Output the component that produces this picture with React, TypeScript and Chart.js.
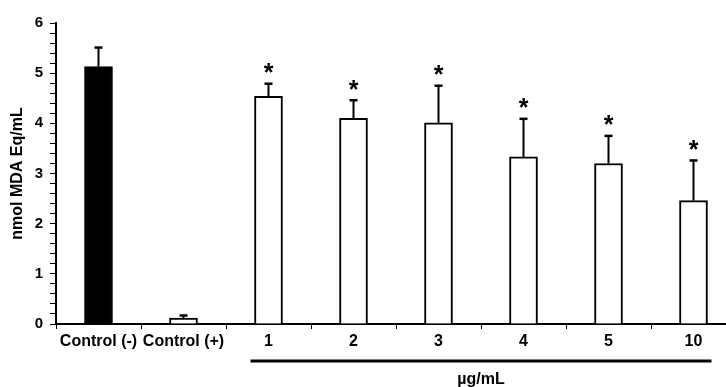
import React, { useEffect, useRef } from "react";
import { Chart, registerables } from "chart.js";

Chart.register(...registerables);

const categories = ["Control (-)", "Control (+)", "1", "2", "3", "4", "5", "10"];
const meanValues = [5.13, 0.12, 4.54, 4.1, 4.01, 3.33, 3.2, 2.46];
const errorValues = [0.38, 0.05, 0.25, 0.36, 0.74, 0.76, 0.55, 0.8];
const significant = [false, false, true, true, true, true, true, true];
const barColors = ["#000000", "#ffffff", "#ffffff", "#ffffff", "#ffffff", "#ffffff", "#ffffff", "#ffffff"];
const yTitle = "nmol MDA Eq/mL";
const groupLabel = "µg/mL";
const groupStart = 2;
const groupEnd = 7;

const FONT = "'Liberation Sans', Arial, sans-serif";

const errorBarPlugin = {
  id: "errorBars",
  afterDatasetsDraw(chart: any) {
    const ctx = chart.ctx;
    const meta = chart.getDatasetMeta(0);
    const ys = chart.scales.y;
    ctx.save();
    ctx.strokeStyle = "#000";
    ctx.fillStyle = "#000";
    meta.data.forEach((bar: any, i: number) => {
      const x = bar.x;
      const yBar = ys.getPixelForValue(meanValues[i]);
      const yTop = ys.getPixelForValue(meanValues[i] + errorValues[i]);
      ctx.lineWidth = 2;
      ctx.beginPath();
      ctx.moveTo(x, yBar);
      ctx.lineTo(x, yTop);
      ctx.stroke();
      ctx.lineWidth = 2.5;
      ctx.beginPath();
      ctx.moveTo(x - 4, yTop);
      ctx.lineTo(x + 4, yTop);
      ctx.stroke();
      if (significant[i]) {
        ctx.font = `bold 25px ${FONT}`;
        ctx.textAlign = "center";
        ctx.textBaseline = "alphabetic";
        ctx.fillText("*", x, yTop - 2.5);
      }
    });
    ctx.restore();
  },
  afterDraw(chart: any) {
    const ctx = chart.ctx;
    const meta = chart.getDatasetMeta(0);
    const a = meta.data[groupStart];
    const b = meta.data[groupEnd];
    const x1 = a.x - a.width / 2 - 4;
    const x2 = b.x + b.width / 2 + 4;
    ctx.save();
    ctx.strokeStyle = "#000";
    ctx.lineWidth = 3;
    ctx.beginPath();
    ctx.moveTo(x1, 361);
    ctx.lineTo(x2, 361);
    ctx.stroke();
    ctx.fillStyle = "#000";
    ctx.font = `bold 16px ${FONT}`;
    ctx.textAlign = "center";
    ctx.textBaseline = "middle";
    ctx.fillText(groupLabel, (x1 + x2) / 2, 380);
    ctx.restore();
  },
};

export default function App() {
  const ref = useRef<HTMLCanvasElement | null>(null);
  useEffect(() => {
    document.body.style.margin = "0";
    document.body.style.overflow = "hidden";
    const canvas = ref.current!;
    const chart = new Chart(canvas, {
      type: "bar",
      data: {
        labels: categories,
        datasets: [
          {
            data: meanValues,
            backgroundColor: barColors,
            borderColor: "#000",
            borderWidth: 2,
            barThickness: 28,
          },
        ],
      },
      plugins: [errorBarPlugin],
      options: {
        animation: false,
        responsive: false,
        devicePixelRatio: 1,
        layout: { padding: { top: 23, left: 0, right: 0, bottom: 0 } },
        plugins: { legend: { display: false }, tooltip: { enabled: false } },
        scales: {
          x: {
            afterFit(scale: any) {
              scale.height = 63;
            },
            grid: {
              display: true,
              offset: true,
              drawOnChartArea: false,
              drawTicks: true,
              tickLength: 5,
              color: "#000",
              lineWidth: 1,
            },
            border: { display: true, color: "#000", width: 2 },
            ticks: {
              color: "#000",
              padding: 3,
              maxRotation: 0,
              autoSkip: false,
              font: { family: FONT, size: 16, weight: "bold" },
            },
          },
          y: {
            min: 0,
            max: 6,
            afterFit(scale: any) {
              scale.width = 56;
            },
            grid: {
              display: true,
              drawOnChartArea: false,
              drawTicks: true,
              tickLength: 6,
              color: "#000",
              lineWidth: 1,
            },
            border: { display: true, color: "#000", width: 2 },
            ticks: {
              stepSize: 0.2,
              autoSkip: false,
              color: "#000",
              padding: 7,
              font: { family: FONT, size: 15, weight: "bold" },
              callback(v: any) {
                const n = Number(v);
                return Math.abs(n - Math.round(n)) < 1e-6 ? String(Math.round(n)) : "";
              },
            },
            title: {
              display: true,
              text: yTitle,
              color: "#000",
              padding: { top: 8, bottom: 0 },
              font: { family: FONT, size: 16, weight: "bold" },
            },
          },
        },
      },
    } as any);
    return () => chart.destroy();
  }, []);
  return (
    <div style={{ width: 736, height: 387, overflow: "hidden" }}>
      <canvas ref={ref} width={736} height={387} style={{ display: "block" }} />
    </div>
  );
}
